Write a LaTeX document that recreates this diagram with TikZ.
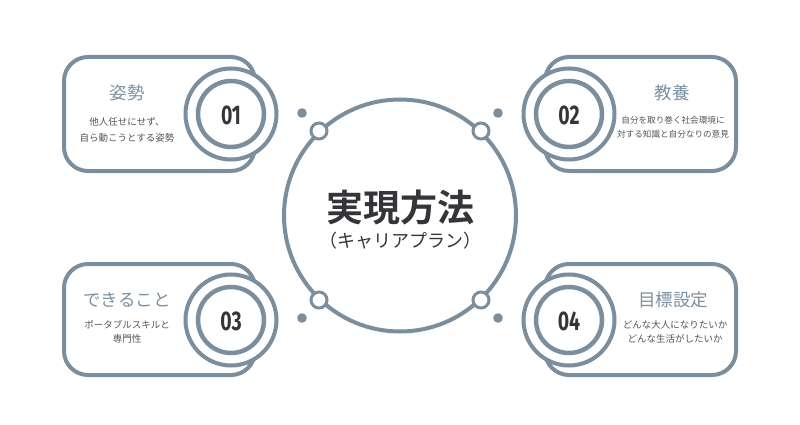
\documentclass[tikz,border=0pt]{standalone}
\usepackage{fontspec}
\newfontfamily\jp[BoldFont=* Bold]{Noto Sans CJK JP}
\newfontfamily\num[BoldFont=* Bold]{Fira Sans}
\definecolor{lineblue}{HTML}{7A8E9D}
\definecolor{titleblue}{HTML}{7B91A1}
\definecolor{subgray}{HTML}{555555}
\definecolor{dark}{HTML}{333538}
\tikzset{
  card/.style={draw=lineblue, line width=4pt, fill=white, rounded corners=24pt},
  ringout/.style={draw=lineblue, line width=4pt, fill=white},
  ringin/.style={draw=lineblue, line width=4.5pt},
  hollow/.style={draw=lineblue, line width=3pt, fill=white},
  dotf/.style={fill=lineblue},
  titletxt/.style={text=titleblue, font=\jp\fontsize{17.5}{20}\selectfont, inner sep=0},
  subtxt/.style={text=subgray, font=\jp\fontsize{9}{16}\selectfont, align=center, inner sep=0},
  numtxt/.style={text=dark, font=\num\bfseries\fontsize{27}{27}\selectfont, inner sep=0},
}
\begin{document}
\begin{tikzpicture}[x=1pt,y=-1pt]
\useasboundingbox (0,0) rectangle (800,425);
\fill[white] (0,0) rectangle (800,425);
% cards
\draw[card] (64,57) rectangle (255,171);
\draw[card] (545,57) rectangle (736,171);
\draw[card] (64,264) rectangle (255,375);
\draw[card] (545,264) rectangle (736,375);
% number rings
\foreach \n/\x/\y in {a/231/114, b/569/114, c/231/320, d/569/320}{
  \draw[ringout] (\x,\y) circle (45.5);
  \draw[ringin] (\x,\y) circle (33);
}
\node[numtxt] (n1) at (231,115) {\scalebox{0.72}[1]{01}};
\node[numtxt] (n2) at (569,115) {\scalebox{0.72}[1]{02}};
\node[numtxt] (n3) at (231,321) {\scalebox{0.72}[1]{03}};
\node[numtxt] (n4) at (569,321) {\scalebox{0.72}[1]{04}};
% titles and texts
\node[titletxt] (t1) at (127,93) {姿勢};
\node[subtxt, font=\jp\fontsize{9.5}{16}\selectfont] (s1) at (127,130) {他人任せにせず、\\自ら動こうとする姿勢};
\node[titletxt] (t2) at (672,93) {教養};
\node[subtxt, font=\jp\fontsize{8.6}{14.5}\selectfont] (s2) at (673,127) {自分を取り巻く社会環境に\\対する知識と自分なりの意見};
\node[titletxt] (t3) at (127,300) {できること};
\node[subtxt, font=\jp\fontsize{9.5}{14}\selectfont] (s3) at (127,332) {ポータブルスキルと\\専門性};
\node[titletxt] (t4) at (673,300) {目標設定};
\node[subtxt, font=\jp\fontsize{9.5}{14}\selectfont] (s4) at (675,332) {どんな大人になりたいか\\どんな生活がしたいか};
% central circle
\draw[draw=lineblue, line width=4pt, fill=white] (400,215.5) circle (116);
\node[text=dark, font=\jp\bfseries\fontsize{37}{40}\selectfont, inner sep=0] (c1) at (400,207) {実現方法};
\node[text=dark, font=\jp\fontsize{18}{20}\selectfont, inner sep=0] (c2) at (400,241) {（キャリアプラン）};
% hollow circles and dots
\foreach \x/\y in {319/131, 481/131, 319/300, 481/300}{
  \draw[hollow] (\x,\y) circle (8);
}
\foreach \x/\y in {302/113, 498/113, 302/318, 498/318}{
  \fill[dotf] (\x,\y) circle (4.8);
}
\end{tikzpicture}
\end{document}
